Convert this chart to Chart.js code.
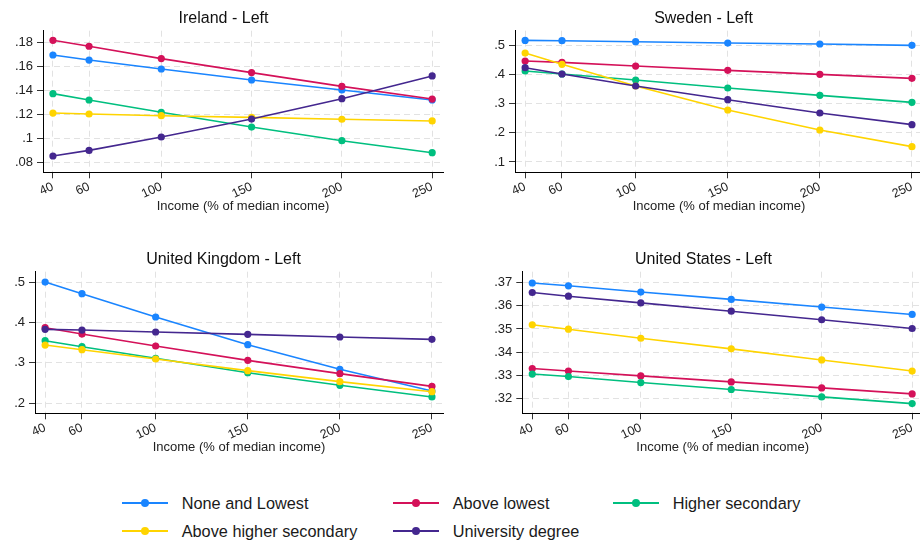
<!DOCTYPE html>
<html>
<head>
<meta charset="utf-8">
<script src="https://cdn.jsdelivr.net/npm/chart.js@4.4.1/dist/chart.umd.min.js"></script>
<style>
  html, body { margin:0; padding:0; background:#fff; overflow:hidden; width:920px; height:543px; }
  canvas { position:absolute; }
  .lg-line { position:absolute; height:2px; }
  .lg-dot { position:absolute; width:8px; height:8px; border-radius:50%; }
  .lg-text { position:absolute; font-family:'Liberation Sans', Arial, sans-serif; font-size:16.3px; color:#1a1a1a; white-space:nowrap; line-height:20px; }
</style>
</head>
<body>
<canvas id="c0" width="447" height="230" style="left:0px;top:0px"></canvas>
<canvas id="c1" width="447" height="230" style="left:480px;top:0px"></canvas>
<canvas id="c2" width="447" height="230" style="left:0px;top:241px"></canvas>
<canvas id="c3" width="447" height="230" style="left:480px;top:241px"></canvas>
<div id="legend"></div>
<script>
// ---------- DATA ----------
const xValues = [40, 60, 100, 150, 200, 250];
const xTickLabels = ['40', '60', '100', '150', '200', '250'];
const xAxisTitle = 'Income (% of median income)';
const seriesNames = ['None and Lowest', 'Above lowest', 'Higher secondary', 'Above higher secondary', 'University degree'];

const irelandNoneLowest          = [0.1694, 0.1652, 0.1577, 0.1485, 0.1402, 0.1318];
const irelandAboveLowest         = [0.1817, 0.1767, 0.1664, 0.1547, 0.1432, 0.1326];
const irelandHigherSecondary     = [0.1371, 0.1318, 0.1215, 0.1092, 0.0978, 0.0878];
const irelandAboveHigherSecondary= [0.1209, 0.1201, 0.1187, 0.1173, 0.1157, 0.1143];
const irelandUniversity          = [0.0850, 0.0897, 0.1009, 0.1159, 0.1329, 0.1519];
const irelandYTicks  = [0.08, 0.10, 0.12, 0.14, 0.16, 0.18];
const irelandYLabels = ['.08', '.1', '.12', '.14', '.16', '.18'];

const swedenNoneLowest           = [0.5170, 0.5160, 0.5126, 0.5080, 0.5046, 0.5000];
const swedenAboveLowest          = [0.4463, 0.4417, 0.4291, 0.4143, 0.4006, 0.3869];
const swedenHigherSecondary      = [0.4120, 0.4017, 0.3811, 0.3537, 0.3286, 0.3046];
const swedenAboveHigherSecondary = [0.4737, 0.4349, 0.3606, 0.2783, 0.2097, 0.1526];
const swedenUniversity           = [0.4234, 0.4017, 0.3606, 0.3137, 0.2680, 0.2280];
const swedenYTicks  = [0.1, 0.2, 0.3, 0.4, 0.5];
const swedenYLabels = ['.1', '.2', '.3', '.4', '.5'];

const ukNoneLowest               = [0.5000, 0.4712, 0.4135, 0.3451, 0.2841, 0.2305];
const ukAboveLowest              = [0.3871, 0.3714, 0.3418, 0.3063, 0.2734, 0.2420];
const ukHigherSecondary          = [0.3549, 0.3401, 0.3113, 0.2758, 0.2445, 0.2157];
const ukAboveHigherSecondary     = [0.3442, 0.3327, 0.3096, 0.2808, 0.2536, 0.2288];
const ukUniversity               = [0.3830, 0.3813, 0.3764, 0.3706, 0.3640, 0.3582];
const ukYTicks  = [0.2, 0.3, 0.4, 0.5];
const ukYLabels = ['.2', '.3', '.4', '.5'];

const usNoneLowest               = [0.3699, 0.3687, 0.3660, 0.3628, 0.3595, 0.3563];
const usAboveLowest              = [0.3329, 0.3318, 0.3297, 0.3271, 0.3245, 0.3219];
const usHigherSecondary          = [0.3305, 0.3294, 0.3268, 0.3238, 0.3206, 0.3177];
const usAboveHigherSecondary     = [0.3518, 0.3499, 0.3460, 0.3414, 0.3366, 0.3318];
const usUniversity               = [0.3658, 0.3642, 0.3613, 0.3577, 0.3540, 0.3502];
const usYTicks  = [0.32, 0.33, 0.34, 0.35, 0.36, 0.37];
const usYLabels = ['.32', '.33', '.34', '.35', '.36', '.37'];

// ---------- STYLE ----------
const seriesColors = ['#1a85ff', '#d41159', '#00bf7f', '#ffd400', '#44278f'];
const FONT = "'Liberation Sans', Arial, sans-serif";

const panels = [
  { id:'c0', title:'Ireland - Left', series:[irelandNoneLowest, irelandAboveLowest, irelandHigherSecondary, irelandAboveHigherSecondary, irelandUniversity],
    yMin:0.0714, yMax:0.1897, yTicks:irelandYTicks, yLabels:irelandYLabels, yW:43 },
  { id:'c1', title:'Sweden - Left', series:[swedenNoneLowest, swedenAboveLowest, swedenHigherSecondary, swedenAboveHigherSecondary, swedenUniversity],
    yMin:0.0646, yMax:0.5503, yTicks:swedenYTicks, yLabels:swedenYLabels, yW:35 },
  { id:'c2', title:'United Kingdom - Left', series:[ukNoneLowest, ukAboveLowest, ukHigherSecondary, ukAboveHigherSecondary, ukUniversity],
    yMin:0.1753, yMax:0.5256, yTicks:ukYTicks, yLabels:ukYLabels, yW:35 },
  { id:'c3', title:'United States - Left', series:[usNoneLowest, usAboveLowest, usHigherSecondary, usAboveHigherSecondary, usUniversity],
    yMin:0.3135, yMax:0.3748, yTicks:usYTicks, yLabels:usYLabels, yW:42.3 }
];

const gridCfg = { color:'#e2e2e2', lineWidth:1, tickColor:'#333', tickLength:6, tickWidth:1, tickBorderDash:[] };
const borderCfg = { display:true, color:'#000', width:1, dash:[6,4] };

panels.forEach(p => {
  const datasets = p.series.map((vals, i) => ({
    label: seriesNames[i],
    data: xValues.map((x, k) => ({ x: x, y: vals[k] })),
    borderColor: seriesColors[i],
    backgroundColor: seriesColors[i],
    pointBackgroundColor: seriesColors[i],
    pointBorderWidth: 0,
    pointRadius: 3.6,
    borderWidth: 1.6,
    tension: 0,
    order: 10 - i
  }));
  new Chart(document.getElementById(p.id), {
    type: 'line',
    data: { datasets },
    options: {
      responsive: false,
      animation: false,
      devicePixelRatio: 1,
      layout: { padding: 0 },
      plugins: {
        legend: { display: false },
        tooltip: { enabled: false },
        title: { display: true, text: p.title, color: '#111',
                 font: { family: FONT, size: 16, weight: 'normal' },
                 padding: { top: 8.9, bottom: 2.6 } }
      },
      scales: {
        x: {
          type: 'linear', min: 34.5, max: 256,
          afterBuildTicks: s => { s.ticks = xValues.map(v => ({ value: v })); },
          afterFit: s => { s.height = 57.7; s.paddingLeft = 0; s.paddingRight = 0; },
          ticks: { autoSkip: false, minRotation: 25, maxRotation: 25, padding: 1, color: '#222',
                   font: { family: FONT, size: 12.5 }, callback: (v, i) => xTickLabels[i] },
          grid: gridCfg,
          border: borderCfg,
          title: { display: true, text: xAxisTitle, color: '#222',
                   font: { family: FONT, size: 13 }, padding: { top: 0, bottom: 15.5 } }
        },
        y: {
          type: 'linear', min: p.yMin, max: p.yMax,
          afterBuildTicks: s => { s.ticks = p.yTicks.map(v => ({ value: v })); },
          afterFit: s => { s.width = p.yW; s.paddingTop = 0; s.paddingBottom = 0; },
          ticks: { padding: 4, color: '#222', font: { family: FONT, size: 13 },
                   callback: (v, i) => p.yLabels[i] },
          grid: gridCfg,
          border: borderCfg
        }
      }
    }
  });
});

// ---------- LEGEND (HTML text) ----------
const legendPos = [[121.7, 503], [392.7, 503], [612.7, 503], [121.7, 531], [392.7, 531]];
const legend = document.getElementById('legend');
seriesNames.forEach((name, i) => {
  const [x, y] = legendPos[i];
  const line = document.createElement('div');
  line.className = 'lg-line';
  line.style.cssText = `left:${x}px;top:${y - 1}px;width:46.5px;background:${seriesColors[i]}`;
  const dot = document.createElement('div');
  dot.className = 'lg-dot';
  dot.style.cssText = `left:${x + 23.25 - 4}px;top:${y - 4}px;background:${seriesColors[i]}`;
  const txt = document.createElement('div');
  txt.className = 'lg-text';
  txt.style.cssText = `left:${x + 60}px;top:${y - 10}px`;
  txt.textContent = name;
  legend.appendChild(line); legend.appendChild(dot); legend.appendChild(txt);
});
</script>
</body>
</html>
